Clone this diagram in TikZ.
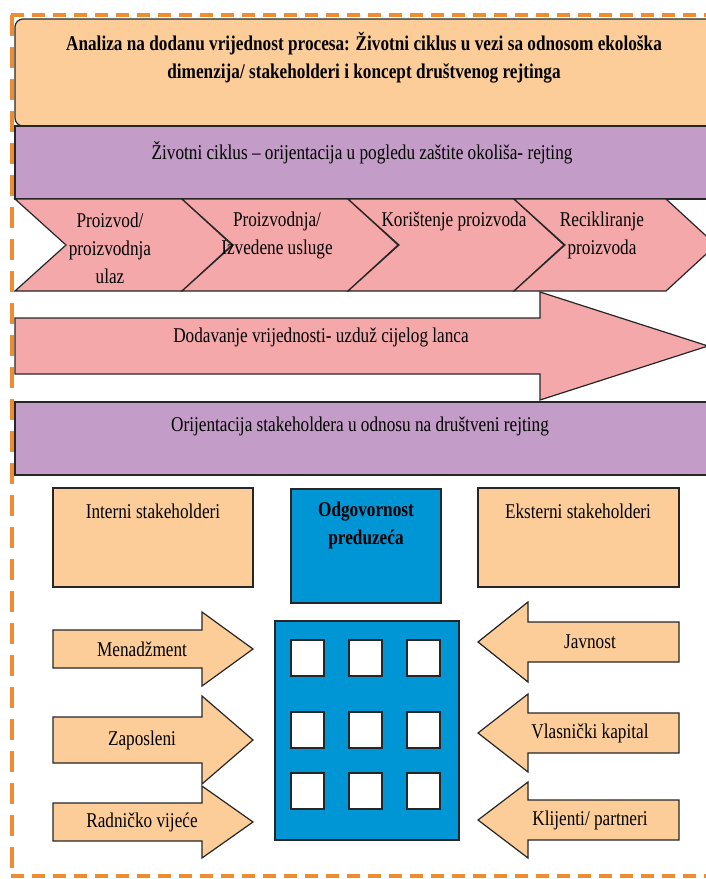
\documentclass[tikz,border=0pt]{standalone}
\usepackage{fontspec}
\setmainfont[FakeStretch=0.82]{Liberation Serif}
\usepackage{tikz}
\definecolor{peach}{RGB}{252,205,153}
\definecolor{lilac}{RGB}{195,157,199}
\definecolor{rose}{RGB}{245,168,170}
\definecolor{sky}{RGB}{0,150,214}
\definecolor{frameorange}{RGB}{238,140,50}
\tikzset{shape line/.style={draw=black!85, line width=1.2pt},
    frame line/.style={draw=frameorange, line width=4.5pt},
    txt/.style={font=\fontsize{21}{28}\selectfont, align=center, inner sep=0pt},
    boldtxt/.style={font=\fontsize{21}{28}\selectfont\bfseries, align=center, inner sep=0pt}}

\begin{document}
\begin{tikzpicture}[x=1pt, y=-1pt, line join=miter,
        every path/.style={shape line}]
    \useasboundingbox[draw=none] (0,0) rectangle (705,879);
    % head and bands
    \draw[fill=peach, rounded corners=8pt] (15,19) rectangle (725,126);
    \node[boldtxt, draw=none] (title) at (364,58)
        {Analiza na dodanu vrijednost procesa: Životni ciklus u vezi sa odnosom ekološka\\
        dimenzija/ stakeholderi i koncept društvenog rejtinga};
    \draw[fill=lilac] (15,126) rectangle (725,199);
    \node[txt, draw=none] (cycle) at (362,153)
        {Životni ciklus – orijentacija u pogledu zaštite okoliša- rejting};
    % chevrons
    \foreach \x/\w in {15/167, 182/166, 348/166, 514/152}
        \draw[fill=rose] (\x,199) -- (\x+\w,199) -- (\x+\w+50,245) -- (\x+\w,291)
            -- (\x,291) -- (\x+51,245) -- cycle;
    \node[txt, draw=none] (input) at (110,248) {Proizvod/\\proizvodnja\\ulaz};
    \node[txt, draw=none] (production) at (277,235) {Proizvodnja/\\Izvedene usluge};
    \node[txt, draw=none] (usage) at (454,221) {Korištenje proizvoda};
    \node[txt, draw=none] (recycling) at (602,235) {Recikliranje\\proizvoda};
    % value chain arrow
    \draw[fill=rose] (15,318) -- (540,318) -- (540,292) -- (708,346) -- (540,400)
        -- (540,374) -- (15,374) -- cycle;
    \node[txt, draw=none] (chain) at (321,337) {Dodavanje vrijednosti- uzduž cijelog lanca};
    \draw[fill=lilac] (15,402) rectangle (725,475);
    \node[txt, draw=none] (social) at (360,426)
        {Orijentacija stakeholdera u odnosu na društveni rejting};
    % stakeholders
    \draw[fill=peach] (53,488) rectangle (253,587);
    \node[txt, draw=none] (internal) at (153,511) {Interni stakeholderi};
    \draw[fill=sky] (291,489) rectangle (441,603);
    \node[boldtxt, draw=none] (duty) at (366,525) {Odgovornost\\preduzeća};
    \draw[fill=peach] (478,488) rectangle (679,587);
    \node[txt, draw=none] (external) at (578,511) {Eksterni stakeholderi};
    % company
    \draw[fill=sky] (275,621) rectangle (459,840);
    \foreach \x in {291,349,407}
        \foreach \y in {640,712,773}
            \draw[fill=white] (\x,\y) rectangle +(33,36);
    \foreach \c/\h/\H/\t [count=\i] in {649/19/37/Menadžment, 740/23/44/Zaposleni,
            822/19/36/Radničko vijeće}{
        \draw[fill=peach] (53,\c-\h) -- (202,\c-\h) -- (202,\c-\H) -- (253,\c)
            -- (202,\c+\H) -- (202,\c+\h) -- (53,\c+\h) -- cycle;
        \node[txt, draw=none] (in\i) at (142,\c) {\t};
    }
    \foreach \c/\h/\H/\t [count=\i] in {642/20/40/Javnost, 733/20/39/Vlasnički kapital,
            820/20/38/{Klijenti/ partneri}}{
        \draw[fill=peach] (679,\c-\h) -- (528,\c-\h) -- (528,\c-\H) -- (478,\c)
            -- (528,\c+\H) -- (528,\c+\h) -- (679,\c+\h) -- cycle;
        \node[txt, draw=none] (out\i) at (590,\c) {\t};
    }
    % frame
    \draw[frame line, dash pattern=on 13pt off 8pt] (11,15) -- (720,15);
    \draw[frame line, dash pattern=on 13pt off 8pt] (11,876) -- (720,876);
    \draw[frame line, dash pattern=on 21pt off 11pt] (12,15) -- (12,876);
\end{tikzpicture}
\end{document}
